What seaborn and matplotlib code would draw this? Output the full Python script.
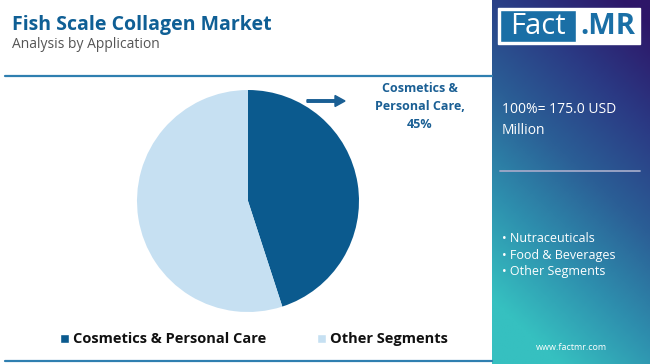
import numpy as np
import seaborn as sns
import matplotlib.pyplot as plt
from matplotlib.colors import LinearSegmentedColormap
from matplotlib.patches import Rectangle, FancyArrow

# Data
segments = ["Cosmetics & Personal Care", "Other Segments"]
shares = [45, 55]
colors = ["#0b5a8e", "#c6e0f2"]
total_label = "100%= 175.0 USD\nMillion"
other_items = ["Nutraceuticals", "Food & Beverages", "Other Segments"]

sns.set_theme(style="white")
plt.rcParams["font.family"] = ["Open Sans", "DejaVu Sans"]

W, H = 650, 364
fig = plt.figure(figsize=(6.5, 3.64), dpi=100)
fig.patch.set_facecolor("white")

# background overlay axes in pixel coords
bg = fig.add_axes([0, 0, 1, 1])
bg.set_xlim(0, W)
bg.set_ylim(H, 0)
bg.axis("off")

# Title block
bg.text(12, 25, "Fish Scale Collagen Market", fontsize=14, fontweight="bold",
        color="#0f5f95", va="center", ha="left")
bg.text(12, 45, "Analysis by Application", fontsize=10, color="#555555",
        va="center", ha="left")
bg.plot([5, 492], [76, 76], color="#2f7fb0", lw=1.6)
bg.plot([5, 492], [361, 361], color="#2f7fb0", lw=1.6)

# Right gradient panel
cmap = LinearSegmentedColormap.from_list(
    "fm", ["#2e1668", "#2a3a84", "#2b5f96", "#2e8fae", "#36c0c0"])
yy, xx = np.mgrid[0:1:200j, 0:1:100j]
grad = np.clip(0.85 * yy + 0.35 * (1 - xx) - 0.05, 0, 1)
bg.imshow(grad, cmap=cmap, extent=[492, 650, H, 0], aspect="auto", zorder=1)

# Logo
bg.add_patch(Rectangle((498, 8), 142, 36, facecolor="white", zorder=2))
bg.add_patch(Rectangle((500, 10), 76, 32, facecolor="#1a6fa6", zorder=3))
bg.text(538, 26, "Fact", color="white", fontsize=21, ha="center", va="center", zorder=4)
bg.text(608, 26, ".MR", color="#1a6fa6", fontsize=21, fontweight="bold",
        ha="center", va="center", zorder=4)

bg.text(502, 120, total_label, color="white", fontsize=10, ha="left", va="center",
        linespacing=1.6, zorder=4)
bg.plot([500, 640], [171, 171], color="#a0a8c8", lw=1.3, zorder=4)
for i, item in enumerate(other_items):
    bg.text(502, 238 + i * 17, "• " + item, color="white", fontsize=9,
            ha="left", va="center", zorder=4)
bg.text(571, 348, "www.factmr.com", color="white", fontsize=6.5,
        ha="center", va="center", zorder=4)

# Pie
ax = fig.add_axes([136 / W, 1 - 312 / H, 224 / W, 222 / H])
ax.pie(shares, colors=colors, startangle=90, counterclock=False,
       wedgeprops=dict(linewidth=0))
ax.set_xlim(-1, 1)
ax.set_ylim(-1, 1)
ax.set_aspect("equal")

# Callout
bg.add_patch(FancyArrow(307, 101, 28, 0, width=2.5, head_width=11, head_length=10,
                        color="#1a5f94", length_includes_head=False, zorder=4))
bg.text(420, 106, "Cosmetics &\nPersonal Care,\n45%", color="#1a5f94", fontsize=9,
        fontweight="bold", ha="center", va="center", linespacing=1.5, zorder=4)

# Legend
lx = [60, 317]
for x, lab, c in zip(lx, segments, colors):
    bg.add_patch(Rectangle((x, 334), 9, 9, facecolor=c, zorder=4))
    bg.text(x + 13, 339, lab, fontsize=10.5, fontweight="bold", color="#111111",
            ha="left", va="center", zorder=4)

fig.savefig("out.png", dpi=100)
